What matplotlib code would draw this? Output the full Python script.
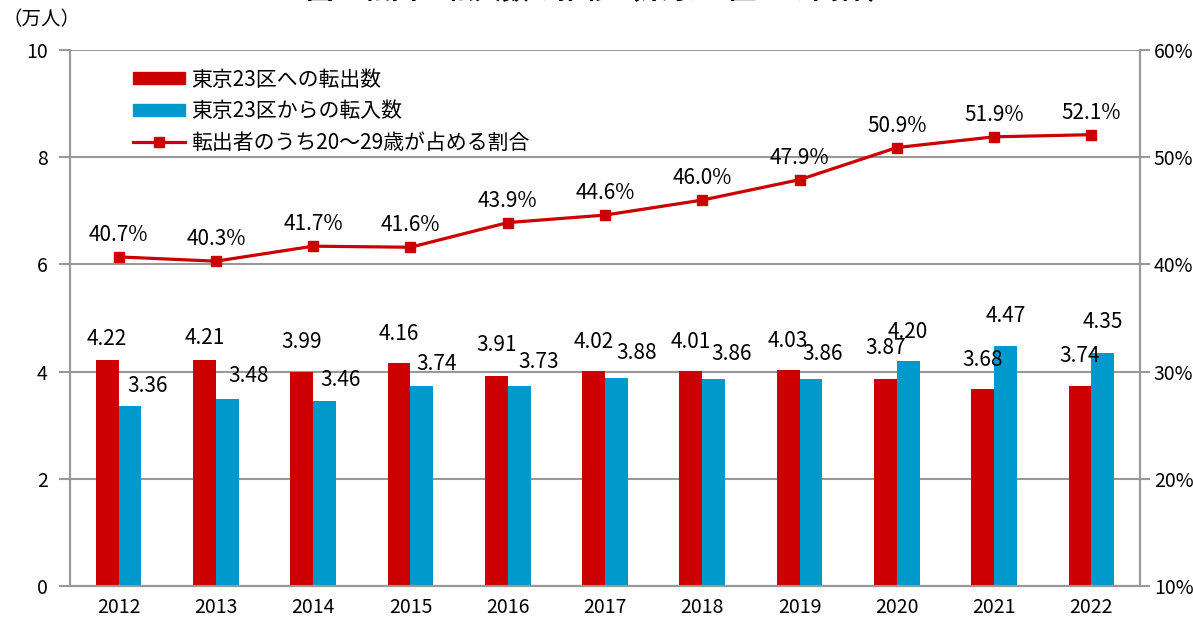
import matplotlib
matplotlib.use("Agg")
import matplotlib.pyplot as plt
import numpy as np
from matplotlib.patches import Patch
from matplotlib.lines import Line2D

plt.rcParams['font.family'] = ['Noto Sans CJK JP', 'DejaVu Sans']

years = ['2012', '2013', '2014', '2015', '2016', '2017', '2018', '2019', '2020', '2021', '2022']
tenshutsu = [4.22, 4.21, 3.99, 4.16, 3.91, 4.02, 4.01, 4.03, 3.87, 3.68, 3.74]  # 東京23区への転出数
tennyu = [3.36, 3.48, 3.46, 3.74, 3.73, 3.88, 3.86, 3.86, 4.20, 4.47, 4.35]     # 東京23区からの転入数
ratio = [40.7, 40.3, 41.7, 41.6, 43.9, 44.6, 46.0, 47.9, 50.9, 51.9, 52.1]      # 20~29歳の割合(%)

# label offsets (pixels)
red_gap = [10, 11, 19, 18, 20, 18, 18, 18, 20, 18, 19]
blue_dx = [18, 21, 16, 15, 20, 20, 18, 12, 0, 0, 0]
blue_gap = [9, 12, 10, 11, 13, 14, 14, 14, 18, 19, 20]

red = '#CC0000'
blue = '#0099CC'
grid = '#999999'
px = 0.72  # pixel -> point at dpi 100

fig = plt.figure(figsize=(11.93, 6.18), dpi=100)
ax = fig.add_axes([70/1193, 32/618, 1070/1193, 536/618])
ax2 = ax.twinx()

x = np.arange(len(years))
w = 0.235
ax.bar(x - w/2, tenshutsu, width=w, color=red, zorder=3)
ax.bar(x + w/2, tennyu, width=w, color=blue, zorder=3)

for i in range(len(years)):
    ax.annotate(f'{tenshutsu[i]:.2f}', (x[i] - w/2, tenshutsu[i]),
                xytext=(0, red_gap[i]*px), textcoords='offset points',
                ha='center', va='bottom', fontsize=15, zorder=5)
    ax.annotate(f'{tennyu[i]:.2f}', (x[i] + w/2, tennyu[i]),
                xytext=(blue_dx[i]*px, blue_gap[i]*px), textcoords='offset points',
                ha='center', va='bottom', fontsize=15, zorder=5)

ax.set_xlim(-0.5, len(years) - 0.5)
ax.set_ylim(0, 10)
ax.set_yticks([0, 2, 4, 6, 8, 10])
ax.yaxis.grid(True, color=grid, linewidth=1.5, zorder=0)
ax.set_axisbelow(True)
ax.set_xticks(x)
ax.set_xticklabels(years, fontsize=14)
ax.tick_params(axis='x', length=0, pad=8)
ax.tick_params(axis='y', direction='out', length=8, width=1.5, color=grid, labelsize=14, pad=8)

ax2.plot(x, ratio, color=red, linewidth=2.3, marker='s', markersize=7, zorder=4)
for i in range(len(years)):
    ax2.annotate(f'{ratio[i]:.1f}%', (x[i], ratio[i]),
                 xytext=(0, 11*px), textcoords='offset points',
                 ha='center', va='bottom', fontsize=15)
ax2.set_ylim(10, 60)
ax2.set_yticks([10, 20, 30, 40, 50, 60])
ax2.set_yticklabels([f'{v}%' for v in [10, 20, 30, 40, 50, 60]])
ax2.tick_params(axis='y', direction='out', length=7, width=1.5, color=grid, labelsize=14, pad=3)

for a in (ax, ax2):
    for s in a.spines.values():
        s.set_color(grid)
        s.set_linewidth(1.5)
    a.spines['top'].set_visible(False)

handles = [Patch(color=red), Patch(color=blue),
           Line2D([], [], color=red, linewidth=2.3, marker='s', markersize=7)]
labels = ['東京23区への転出数', '東京23区からの転入数', '転出者のうち20～29歳が占める割合']
leg = ax.legend(handles, labels, loc='upper left', bbox_to_anchor=(0.041, 1.0),
                frameon=False, fontsize=15, handlelength=2.5, handleheight=0.5,
                handletextpad=0.3, labelspacing=0.45)
leg.set_zorder(6)

fig.text(3/1193, 1 - 30/618, '（万人）', fontsize=14, ha='left', va='bottom')
fig.text(601/1193, 1 - 4.5/618, '図7  転出・転入数の推移（東京23区との関係）',
         fontsize=20, fontweight='bold', ha='center', va='bottom')

fig.savefig('out.png', dpi=100)
